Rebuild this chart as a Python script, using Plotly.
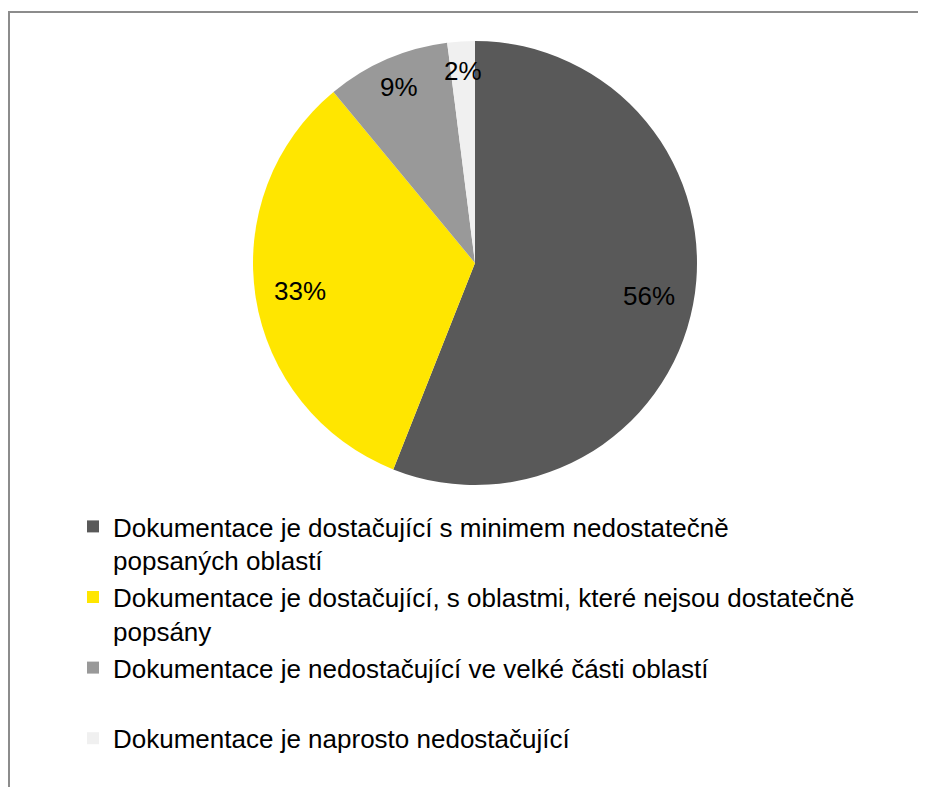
import math
import plotly.graph_objects as go

W, H = 926, 787

labels = [
    "Dokumentace je dostačující s minimem nedostatečně<br>popsaných oblastí",
    "Dokumentace je dostačující, s oblastmi, které nejsou dostatečně<br>popsány",
    "Dokumentace je nedostačující ve velké části oblastí<br> ",
    "Dokumentace je naprosto nedostačující",
]
values = [56, 33, 9, 2]
colors = ["#595959", "#FFE600", "#999999", "#F0F0F0"]

FONT = "Arial, Liberation Sans, sans-serif"

# page body has an 8px margin, so figure coords = screen coords - 8
cx, cy, r = 467, 255, 222

fig = go.Figure(go.Pie(
    labels=labels,
    values=values,
    sort=False,
    direction="clockwise",
    rotation=0,
    marker=dict(colors=colors, line=dict(width=0)),
    textinfo="none",
    hoverinfo="label+percent",
    domain=dict(x=[(cx - r) / W, (cx + r) / W], y=[1 - (cy + r) / H, 1 - (cy - r) / H]),
))

# data labels placed at the mid-angle of each slice (computed from the values)
total = sum(values)
annotations = []
cum = 0.0
for v in values:
    mid = (cum + v / 2) / total * 2 * math.pi
    cum += v
    share = v / total
    rf = 0.80 if share > 0.2 else 0.865
    px = cx + rf * r * math.sin(mid)
    py = cy - rf * r * math.cos(mid)
    annotations.append(dict(
        x=px / W, y=1 - py / H, xref="paper", yref="paper",
        text=f"{round(share * 100)}%", showarrow=False,
        xanchor="center", yanchor="middle",
        font=dict(family=FONT, size=26, color="#000000"),
    ))

fig.update_layout(
    width=W, height=H,
    margin=dict(l=0, r=0, t=0, b=0),
    paper_bgcolor="white",
    plot_bgcolor="white",
    font=dict(family=FONT, size=26, color="#000000"),
    showlegend=True,
    legend=dict(
        x=65 / W, y=1 - 495 / H, xanchor="left", yanchor="top",
        valign="top", traceorder="normal",
        font=dict(family=FONT, size=26, color="#000000"),
        bgcolor="rgba(0,0,0,0)",
    ),
    annotations=annotations,
    shapes=[
        dict(type="line", xref="paper", yref="paper", x0=1 / W, x1=1 / W, y0=0, y1=1 - 4 / H,
             line=dict(color="#8C8C8C", width=2)),
        dict(type="line", xref="paper", yref="paper", x0=0, x1=1, y0=1 - 4 / H, y1=1 - 4 / H,
             line=dict(color="#8C8C8C", width=2)),
    ],
)

fig.write_html("out.html")
